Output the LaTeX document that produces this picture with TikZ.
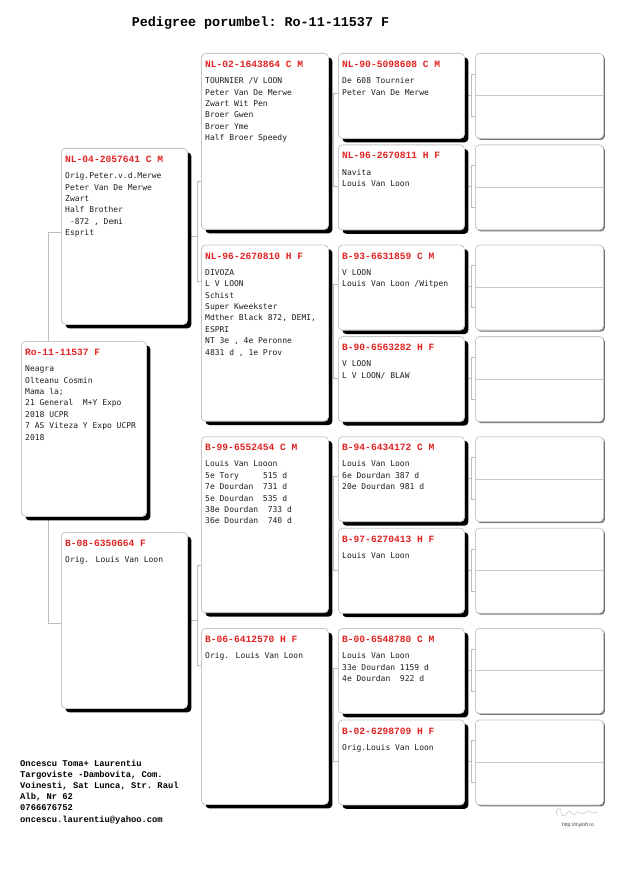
\documentclass[tikz,border=0pt]{standalone}
\usepackage{fontspec}
\setmonofont{Liberation Mono}
\newfontfamily\bodyfont{DejaVu Sans Mono}
\newfontfamily\smallsans{Liberation Sans}
\usetikzlibrary{calc,shadows}
\definecolor{pedred}{RGB}{226,34,34}
\definecolor{boxgray}{RGB}{200,200,200}
\definecolor{conngray}{RGB}{190,190,190}
\definecolor{txtgray}{RGB}{30,30,30}
\tikzset{
  pbox/.style={draw=boxgray, fill=white, rounded corners=4pt, line width=0.8pt,
    inner sep=0pt, anchor=north west,
    drop shadow={shadow xshift=4pt, shadow yshift=-4pt, fill=black, opacity=1}},
  ebox/.style={draw=boxgray, fill=white, rounded corners=4pt, line width=0.8pt,
    inner sep=0pt, anchor=north west, minimum width=128pt, minimum height=85pt,
    drop shadow={shadow xshift=1.5pt, shadow yshift=-1.5pt, fill=black!55, opacity=1}},
  bigbox/.style={pbox, minimum width=126pt, minimum height=176pt},
  smallbox/.style={pbox, minimum width=126pt, minimum height=85pt},
  conn/.style={draw=conngray, line width=0.6pt},
  hdr/.style={font=\ttfamily\bfseries\fontsize{9.6}{11}\selectfont, text=pedred, inner sep=0pt, anchor=base west},
  bodytxt/.style={font=\bodyfont\fontsize{8}{11.4}\selectfont, text=txtgray, inner sep=0pt, anchor=north west, align=left},
  title/.style={font=\ttfamily\bfseries\fontsize{13.4}{15}\selectfont, inner sep=0pt, anchor=base},
  breeder/.style={font=\ttfamily\bfseries\fontsize{8.8}{11.2}\selectfont, inner sep=0pt, anchor=north west, align=left}
}
\newcommand\pedinfo[3]{%
  \node[hdr] (h#1) at ($(#1.north west)+(4,14.5)$) {#2};
  \node[bodytxt] (t#1) at ($(#1.north west)+(4,22.5)$) {\strut #3};
}
\begin{document}
\begin{tikzpicture}[x=1pt,y=-1pt]
\useasboundingbox (0,0) rectangle (622,882);
\fill[white] (0,0) rectangle (622,882);
\node[title] (ttl) at (260.5,26.5) {Pedigree porumbel: Ro-11-11537 F};

% ---- connectors (behind boxes) ----
\coordinate (Pf) at (61,232);
\coordinate (Pm) at (61,623);
\draw[conn] (Pf) -- ++(-13,0) |- (Pm);
% father -> col2
\draw[conn] (71,148) ++(116,88) coordinate (fe) -- ++(10,0);
\draw[conn] (201,181.5) coordinate (aA) -- ++(-4,0) |- (201,281.7) coordinate (aB);
% mother -> col2
\draw[conn] (187,620) coordinate (me) -- ++(10,0);
\draw[conn] (201,564.8) coordinate (aC) -- ++(-4,0) |- (201,665) coordinate (aD);
% col2 -> col3
\foreach \t in {53,244.7,436.3,628}{
  \draw[conn] (328,\t+88) -- ++(5,0);
  \draw[conn] (338,\t+40) -- ++(-5,0) |- (338,\t+133.5);
}
% col3 -> col4
\foreach \t in {53,244.7,436.3,628}{
  \foreach \d in {0,91.5}{
    \draw[conn] (464,\t+\d+42) -- ++(7,0);
    \draw[conn] (475,\t+\d+21) -- ++(-4,0) |- (475,\t+\d+63);
  }
}

% ---- boxes ----
\node[pbox, minimum width=125pt, minimum height=175pt] (s) at (21,341) {};
\node[bigbox] (f) at (61,148) {};
\node[bigbox] (m) at (61,532) {};
\node[bigbox, minimum width=127pt] (ff) at (201,53) {};
\node[bigbox, minimum width=127pt] (fm) at (201,244.7) {};
\node[bigbox, minimum width=127pt] (mf) at (201,436.3) {};
\node[bigbox, minimum width=127pt] (mm) at (201,628) {};
\node[smallbox] (fff) at (338,53) {};
\node[smallbox] (ffm) at (338,144.5) {};
\node[smallbox] (fmf) at (338,244.7) {};
\node[smallbox] (fmm) at (338,336.2) {};
\node[smallbox] (mff) at (338,436.3) {};
\node[smallbox] (mfm) at (338,527.8) {};
\node[smallbox] (mmf) at (338,628) {};
\node[smallbox] (mmm) at (338,719.5) {};
\foreach \n/\t in {g1/53,g2/144.5,g3/244.7,g4/336.2,g5/436.3,g6/527.8,g7/628,g8/719.5}{
  \node[ebox] (\n) at (475,\t) {};
  \draw[boxgray, line width=0.9pt] (\n.west) -- (\n.east);
}

% ---- texts ----
\pedinfo{s}{Ro-11-11537 F}{Neagra\\Olteanu Cosmin\\Mama la;\\21 General~~M+Y Expo\\2018 UCPR\\7 AS Viteza Y Expo UCPR\\2018}
\pedinfo{f}{NL-04-2057641 C M}{Orig.Peter.v.d.Merwe\\Peter Van De Merwe\\Zwart\\Half Brother\\~-872 , Demi\\Esprit}
\pedinfo{m}{B-08-6350664 F}{Orig. Louis Van Loon}
\pedinfo{ff}{NL-02-1643864 C M}{TOURNIER /V LOON\\Peter Van De Merwe\\Zwart Wit Pen\\Broer Gwen\\Broer Yme\\Half Broer Speedy}
\pedinfo{fm}{NL-96-2670810 H F}{DIVOZA\\L V LOON\\Schist\\Super Kweekster\\Mdther Black 872, DEMI,\\ESPRI\\NT 3e , 4e Peronne\\4831 d , 1e Prov}
\pedinfo{mf}{B-99-6552454 C M}{Louis Van Looon\\5e Tory~~~~~515 d\\7e Dourdan~~731 d\\5e Dourdan~~535 d\\38e Dourdan~~733 d\\36e Dourdan~~740 d}
\pedinfo{mm}{B-06-6412570 H F}{Orig. Louis Van Loon}
\pedinfo{fff}{NL-90-5098608 C M}{De 608 Tournier\\Peter Van De Merwe}
\pedinfo{ffm}{NL-96-2670811 H F}{Navita\\Louis Van Loon}
\pedinfo{fmf}{B-93-6631859 C M}{V LOON\\Louis Van Loon /Witpen}
\pedinfo{fmm}{B-90-6563282 H F}{V LOON\\L V LOON/ BLAW}
\pedinfo{mff}{B-94-6434172 C M}{Louis Van Loon\\6e Dourdan 387 d\\20e Dourdan 981 d}
\pedinfo{mfm}{B-97-6270413 H F}{Louis Van Loon}
\pedinfo{mmf}{B-00-6548780 C M}{Louis Van Loon\\33e Dourdan 1159 d\\4e Dourdan~~922 d}
\pedinfo{mmm}{B-02-6298709 H F}{Orig.Louis Van Loon}

% ---- breeder ----
\node[breeder] (br) at (20,758) {\strut Oncescu Toma+ Laurentiu\\Targoviste -Dambovita, Com.\\Voinesti, Sat Lunca, Str. Raul\\Alb, Nr 62\\0766676752\\oncescu.laurentiu@yahoo.com};

% ---- logo ----
\draw[gray!55, line width=0.4pt, line cap=round]
  (557,815) .. controls (554,808) and (562,806) .. (561,812)
  .. controls (560,818) and (566,816) .. (568,812)
  .. controls (570,808) and (572,818) .. (576,813)
  .. controls (579,809) and (582,817) .. (586,812)
  .. controls (589,808) and (592,816) .. (597,812);
\node[font=\smallsans\fontsize{5}{6}\selectfont, text=black!75, inner sep=0pt] (url) at (578,825) {http://myloft.ro};
\end{tikzpicture}
\end{document}
